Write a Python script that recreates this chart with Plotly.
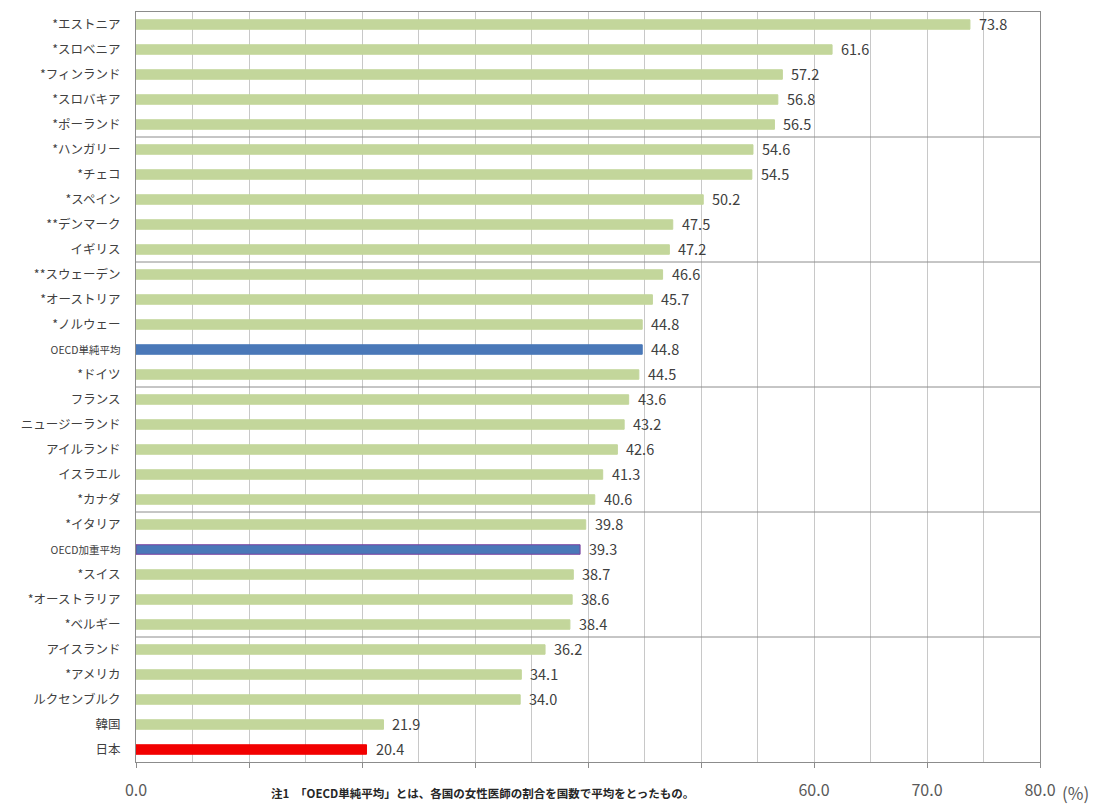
import plotly.graph_objects as go

# Share of female doctors by country (%), top to bottom
countries = [
    "*エストニア", "*スロベニア", "*フィンランド", "*スロバキア", "*ポーランド",
    "*ハンガリー", "*チェコ", "*スペイン", "**デンマーク", "イギリス",
    "**スウェーデン", "*オーストリア", "*ノルウェー", "OECD単純平均", "*ドイツ",
    "フランス", "ニュージーランド", "アイルランド", "イスラエル", "*カナダ",
    "*イタリア", "OECD加重平均", "*スイス", "*オーストラリア", "*ベルギー",
    "アイスランド", "*アメリカ", "ルクセンブルク", "韓国", "日本",
]
shares = [
    73.8, 61.6, 57.2, 56.8, 56.5,
    54.6, 54.5, 50.2, 47.5, 47.2,
    46.6, 45.7, 44.8, 44.8, 44.5,
    43.6, 43.2, 42.6, 41.3, 40.6,
    39.8, 39.3, 38.7, 38.6, 38.4,
    36.2, 34.1, 34.0, 21.9, 20.4,
]
x_tick_vals = [0, 10, 20, 30, 40, 50, 60, 70, 80]
x_tick_text = ["0.0", "", "", "", "", "", "60.0", "70.0", "80.0"]
group_size = 5
footnote = "注1　「OECD単純平均」とは、各国の女性医師の割合を国数で平均をとったもの。"

GREEN = "#c3d69b"
BLUE = "#4a78b8"
RED = "#f20000"

bar_colors, line_colors = [], []
for name in countries:
    if name == "日本":
        bar_colors.append(RED)
        line_colors.append(RED)
    elif name == "OECD単純平均":
        bar_colors.append(BLUE)
        line_colors.append(BLUE)
    elif name == "OECD加重平均":
        bar_colors.append(BLUE)
        line_colors.append("#7a3f9e")
    else:
        bar_colors.append(GREEN)
        line_colors.append(GREEN)

tick_labels = [
    f"<span style='font-size:10.5px'>{c}</span>" if c.startswith("OECD") else c
    for c in countries
]

fig = go.Figure(
    go.Bar(
        x=shares,
        y=list(range(len(countries))),
        orientation="h",
        width=0.38,
        marker=dict(color=bar_colors, line=dict(color=line_colors, width=1)),
        hoverinfo="x+y",
    )
)

# value labels to the right of each bar
for i, v in enumerate(shares):
    fig.add_annotation(
        x=v, y=i, text=f"{v:.1f}", showarrow=False,
        xanchor="left", xshift=7, yshift=1.5,
        font=dict(size=14.5, color="#404040"),
    )

# separator lines between every group of five rows
for k in range(group_size, len(countries), group_size):
    fig.add_shape(
        type="line", xref="paper", x0=0, x1=1, yref="y",
        y0=k - 0.5, y1=k - 0.5,
        line=dict(color="#8c8c8c", width=1),
    )

fig.add_annotation(
    xref="paper", yref="paper", x=1.0, y=0, yshift=-30,
    xanchor="left", yanchor="middle", xshift=20,
    text="(%)", showarrow=False,
    font=dict(size=17, color="#595959"),
)
fig.add_annotation(
    xref="x", yref="paper", x=11.8, y=0, yshift=-31,
    xanchor="left", yanchor="middle",
    text=f"<b>{footnote}</b>", showarrow=False,
    font=dict(size=11.5, color="#262626"),
)

fig.update_layout(
    width=1117, height=805,
    margin=dict(l=136, r=77, t=12, b=43),
    paper_bgcolor="white", plot_bgcolor="white",
    font=dict(family="Noto Sans CJK JP, sans-serif", color="#404040"),
    showlegend=False,
    bargap=0.6,
)
fig.update_xaxes(
    range=[0, 80], automargin=False,
    tickvals=x_tick_vals, ticktext=x_tick_text,
    tickfont=dict(size=16, color="#595959"),
    ticks="outside", ticklen=5, tickcolor="#8c8c8c",
    ticklabelstandoff=9,
    showgrid=True, gridcolor="#c8c8c8", gridwidth=1,
    minor=dict(dtick=5, showgrid=True, gridcolor="#c8c8c8", ticks=""),
    showline=True, linecolor="#8c8c8c", mirror=True,
    zeroline=False, fixedrange=True,
)
fig.update_yaxes(
    range=[len(countries) - 0.5, -0.5], automargin=False,
    tickvals=list(range(len(countries))), ticktext=tick_labels,
    tickfont=dict(size=12.5, color="#404040"),
    ticks="", ticklabelstandoff=12,
    showgrid=False,
    showline=True, linecolor="#8c8c8c", mirror=True,
    zeroline=False, fixedrange=True,
)

fig.write_html("out.html")
